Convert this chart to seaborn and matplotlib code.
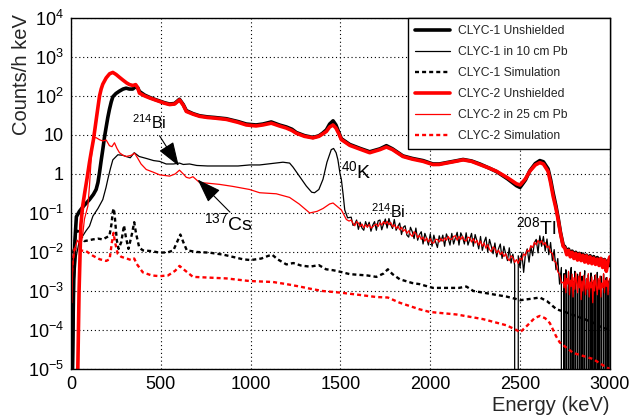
import numpy as np
import matplotlib
matplotlib.use("Agg")
import matplotlib.pyplot as plt
import seaborn as sns
from matplotlib.ticker import FixedLocator, FixedFormatter, LogLocator, MultipleLocator, NullFormatter
from matplotlib.lines import Line2D

# ---------------- spectra (energy in keV, counts/h keV) ----------------
# CLYC-1 unshielded, low-energy part
e_c1_bare_lo = [5, 8, 15, 22, 30, 47, 70, 103, 125, 140, 150, 159, 168, 177, 186, 196, 205, 214,
                224, 233, 250, 270, 290, 307, 325, 344, 363, 372]
c_c1_bare_lo = [1e-6, 1e-5, 0.002, 0.02, 0.08, 0.11, 0.15, 0.22, 0.3, 0.4, 0.6, 1.1, 2.2, 4.2, 8.5, 16,
                28, 45, 70, 95, 115, 133, 150, 158, 150, 150, 178, 160]
# CLYC-2 unshielded, low-energy part
e_c2_bare_lo = [30, 38, 45, 55, 65, 75, 90, 103, 112, 125, 134, 143, 151, 159, 168, 177, 196, 215,
                233, 251, 270, 289, 310, 326, 345, 360, 372]
c_c2_bare_lo = [1e-6, 1e-5, 1e-3, 0.05, 0.15, 0.3, 0.8, 2.0, 3.5, 7.6, 15, 30, 55, 100, 150, 200,
                290, 370, 400, 355, 300, 255, 215, 195, 185, 195, 160]
# unshielded spectra above 380 keV
e_bare_hi = [381, 410, 437, 465, 493, 520, 549, 577, 604, 625, 642, 680, 716, 760, 800, 865, 930,
             976, 1030, 1068, 1115, 1160, 1199, 1230, 1255, 1300, 1347, 1380, 1400, 1422, 1440,
             1459, 1475, 1490, 1505, 1552, 1610, 1663, 1720, 1756, 1790, 1848, 1900, 1960, 2015,
             2050, 2090, 2140, 2183, 2230, 2276, 2330, 2369, 2430, 2480, 2500, 2530, 2554, 2585,
             2610, 2630, 2656, 2670, 2684, 2700, 2712, 2725, 2740]
c_c1_bare_hi = [130, 105, 92, 82, 74, 67, 62, 64, 82, 60, 42, 35, 31, 29, 28, 26, 22, 19, 18, 19,
                21.5, 18, 16, 14, 11.5, 9.6, 8.6, 9.5, 11, 13.5, 19, 23, 18, 12, 8, 5.7, 4.5, 3.7,
                4.4, 5.3, 4.4, 2.9, 2.5, 2.2, 1.8, 1.8, 1.95, 2.15, 2.35, 2.15, 1.8, 1.4, 1.15,
                0.75, 0.5, 0.45, 0.7, 1.2, 1.85, 2.2, 2.05, 1.35, 0.72, 0.33, 0.15, 0.075, 0.032,
                0.015]
c_c2_bare_hi = [118, 100, 89, 80, 72, 65, 60, 62, 79, 58, 40, 34, 30, 28, 27, 25, 21, 18, 17, 18,
                20, 17, 15, 13, 11, 9.2, 8.4, 9.2, 10.5, 12.3, 16, 18, 15, 11, 7.6, 5.4, 4.3, 3.5,
                4.2, 4.9, 4.2, 2.8, 2.4, 2.1, 1.74, 1.75, 1.9, 2.1, 2.3, 2.1, 1.74, 1.4, 1.17, 0.8,
                0.56, 0.52, 0.75, 1.17, 1.7, 1.95, 1.8, 1.17, 0.6, 0.27, 0.13, 0.068, 0.03, 0.014]
# unshielded spectra, 2750-3000 keV in 10 keV bins
e_tail = list(range(2750, 3001, 10))
c_c1_bare_tail = [0.0135, 0.0095, 0.0118, 0.0082, 0.0105, 0.0075, 0.0098, 0.0070, 0.0092, 0.0066,
                  0.0088, 0.0062, 0.0083, 0.0058, 0.0080, 0.0055, 0.0076, 0.0052, 0.0072, 0.0050,
                  0.0068, 0.0047, 0.0064, 0.0044, 0.0060, 0.0045]
c_c2_bare_tail = [0.0125, 0.0085, 0.0110, 0.0075, 0.0098, 0.0068, 0.0092, 0.0062, 0.0088, 0.0060,
                  0.0082, 0.0055, 0.0080, 0.0052, 0.0075, 0.0050, 0.0070, 0.0048, 0.0066, 0.0045,
                  0.0068, 0.0040, 0.0062, 0.0032, 0.0055, 0.0075]

# shielded spectra, smooth low-energy part
e_c1_pb_lo = [8, 14, 20, 30, 45, 66, 84, 103, 122, 150, 177, 195, 205, 220, 233, 261, 290, 307,
              330, 352, 380, 419, 460, 493, 530, 570, 604, 625, 660, 700, 760, 809, 865, 930, 994,
              1050, 1120, 1180, 1217, 1236, 1270, 1310, 1340, 1356, 1380, 1403, 1425, 1449, 1462,
              1476, 1486, 1498, 1505, 1515, 1524, 1540]
c_c1_pb_lo = [1e-6, 1e-5, 0.002, 0.008, 0.018, 0.026, 0.035, 0.046, 0.083, 0.13, 0.22, 0.45, 0.73,
              1.4, 2.3, 3.1, 3.0, 2.8, 2.6, 3.5, 2.8, 2.5, 2.2, 2.1, 1.8, 1.8, 1.9, 1.75, 1.8,
              1.65, 1.6, 1.6, 1.6, 1.6, 1.7, 1.7, 1.85, 2.0, 1.9, 1.5, 0.9, 0.49, 0.34, 0.33, 0.4,
              0.73, 2.0, 4.2, 4.5, 3.5, 2.3, 1.0, 0.73, 0.3, 0.12, 0.075]
e_c2_pb_lo = [5, 10, 20, 36, 55, 66, 75, 94, 103, 112, 122, 131, 140, 160, 177, 196, 214, 228,
              242, 256, 270, 290, 307, 320, 335, 354, 370, 390, 419, 460, 493, 549, 580, 604, 625,
              642, 660, 679, 700, 716, 760, 827, 900, 994, 1050, 1143, 1217, 1270, 1329, 1370,
              1403, 1440, 1459, 1480, 1505, 1533, 1548]
c_c2_pb_lo = [5e-4, 0.005, 0.012, 0.02, 0.015, 0.03, 0.07, 0.15, 0.5, 2.3, 7.0, 8.5, 8.5, 7.5,
              7.0, 7.4, 5.3, 5.0, 6.3, 4.5, 3.5, 3.0, 2.8, 2.9, 3.0, 3.4, 2.6, 1.8, 1.3, 1.1,
              0.95, 0.88, 1.0, 1.25, 1.0, 0.82, 0.78, 0.85, 0.7, 0.6, 0.58, 0.54, 0.48, 0.40,
              0.33, 0.31, 0.25, 0.17, 0.1, 0.11, 0.13, 0.17, 0.18, 0.15, 0.12, 0.068, 0.062]

# shielded spectra, 1560-2740 keV in 10 keV bins
e_mid = list(range(1560, 2741, 10))
c_c1_pb_mid = [0.078, 0.048, 0.052, 0.066, 0.038, 0.058, 0.041, 0.036, 0.060, 0.044,
               0.058, 0.034, 0.049, 0.060, 0.036, 0.063, 0.066, 0.037, 0.052, 0.070,
               0.041, 0.072, 0.050, 0.040, 0.068, 0.036, 0.045, 0.055, 0.028, 0.043,
               0.047, 0.027, 0.024, 0.043, 0.033, 0.022, 0.041, 0.020, 0.028, 0.033,
               0.016, 0.030, 0.022, 0.015, 0.029, 0.014, 0.027, 0.018, 0.013, 0.026,
               0.019, 0.027, 0.014, 0.029, 0.022, 0.015, 0.030, 0.016, 0.023, 0.032,
               0.015, 0.031, 0.024, 0.016, 0.031, 0.015, 0.021, 0.030, 0.014, 0.028,
               0.019, 0.012, 0.025, 0.011, 0.018, 0.024, 0.010, 0.021, 0.014, 0.009,
               0.017, 0.0075, 0.012, 0.016, 0.0068, 0.014, 0.0090, 0.0060, 0.0128, 0.0052,
               0.0088, 0.0046, 0.0, 0.0080, 0.0040, 0.0095, 0.0030, 0.0088, 0.0120, 0.0055,
               0.0140, 0.0080, 0.0175, 0.0210, 0.0095, 0.0260, 0.0140, 0.0250, 0.0105, 0.0215,
               0.0085, 0.0175, 0.0060, 0.0115, 0.0035, 0.0068, 0.0015, 0.0040, 0.0]
c_c2_pb_mid = [0.066, 0.054, 0.047, 0.060, 0.055, 0.045, 0.052, 0.042, 0.050, 0.043,
               0.051, 0.041, 0.044, 0.049, 0.052, 0.045, 0.056, 0.049, 0.060, 0.052,
               0.061, 0.050, 0.057, 0.044, 0.050, 0.040, 0.046, 0.037, 0.043, 0.034,
               0.038, 0.030, 0.035, 0.028, 0.025, 0.033, 0.030, 0.023, 0.027, 0.021,
               0.024, 0.019, 0.023, 0.018, 0.022, 0.017, 0.017, 0.021, 0.021, 0.018,
               0.022, 0.019, 0.023, 0.020, 0.025, 0.021, 0.021, 0.025, 0.026, 0.020,
               0.025, 0.021, 0.025, 0.020, 0.019, 0.024, 0.023, 0.018, 0.022, 0.017,
               0.020, 0.015, 0.019, 0.014, 0.017, 0.0125, 0.0155, 0.0115, 0.0102, 0.0135,
               0.0122, 0.0094, 0.0112, 0.0085, 0.0100, 0.0076, 0.0090, 0.0068, 0.0060, 0.0080,
               0.0073, 0.0054, 0.0064, 0.0051, 0.0070, 0.0062, 0.0090, 0.0080, 0.0112, 0.0102,
               0.0145, 0.0130, 0.0178, 0.0152, 0.0198, 0.0168, 0.0195, 0.0152, 0.0175, 0.0130,
               0.0142, 0.0098, 0.0092, 0.0058, 0.0054, 0.0031, 0.0027, 0.0016, 0.0017]
# shielded spectra, 2745-3000 keV in 5 keV bins
e_tail_pb = list(range(2745, 3001, 5))
c_c1_pb_tail = [0.0028, 0.0, 0.0035, 0.0012, 0.0, 0.0030, 0.0, 0.0022, 0.0040, 0.0,
                0.0018, 0.0, 0.0032, 0.0010, 0.0, 0.0027, 0.0, 0.0015, 0.0030, 0.0,
                0.0024, 0.0, 0.0013, 0.0033, 0.0, 0.0020, 0.0, 0.0026, 0.0011, 0.0,
                0.0029, 0.0, 0.0017, 0.0, 0.0025, 0.0012, 0.0, 0.0030, 0.0, 0.0019,
                0.0, 0.0024, 0.0010, 0.0, 0.0027, 0.0, 0.0016, 0.0022, 0.0, 0.0018,
                0.0, 0.0020]
c_c2_pb_tail = [0.0012, 0.0026, 0.0009, 0.0021, 0.0015, 0.0032, 0.0008, 0.0019, 0.0013, 0.0027,
                0.0007, 0.0022, 0.0011, 0.0029, 0.0016, 0.0009, 0.0024, 0.0012, 0.0030, 0.0006,
                0.0018, 0.0010, 0.0025, 0.0014, 0.0008, 0.0021, 0.0011, 0.0028, 0.0007, 0.0017,
                0.0012, 0.0023, 0.0005, 0.0019, 0.0010, 0.0026, 0.0013, 0.0008, 0.0021, 0.0011,
                0.0024, 0.0007, 0.0016, 0.0012, 0.0028, 0.0009, 0.0019, 0.0013, 0.0022, 0.0008,
                0.0018, 0.0021]

# simulated spectra
e_c1_sim = [2, 15, 25, 36, 47, 60, 75, 100, 122, 150, 177, 200, 214, 225, 233, 239, 245, 255, 265,
            280, 295, 305, 320, 340, 352, 362, 380, 400, 450, 493, 540, 570, 595, 609, 625, 645,
            700, 772, 850, 957, 1000, 1060, 1100, 1120, 1150, 1199, 1238, 1280, 1330, 1380, 1420,
            1460, 1500, 1552, 1600, 1650, 1700, 1740, 1764, 1790, 1830, 1900, 1940, 2015, 2100,
            2160, 2201, 2240, 2294, 2350, 2424, 2480, 2500, 2560, 2610, 2650, 2703, 2760, 2833,
            2900, 2950, 3000]
c_c1_sim = [0.004, 0.012, 0.025, 0.035, 0.033, 0.024, 0.019, 0.02, 0.021, 0.022, 0.021, 0.024,
            0.026, 0.05, 0.11, 0.13, 0.07, 0.02, 0.012, 0.018, 0.048, 0.025, 0.012, 0.03, 0.058,
            0.03, 0.013, 0.011, 0.0105, 0.0096, 0.0098, 0.011, 0.02, 0.028, 0.018, 0.011, 0.01,
            0.0096, 0.0085, 0.0065, 0.0062, 0.0068, 0.008, 0.0085, 0.0065, 0.0048, 0.0052, 0.0045,
            0.0042, 0.0046, 0.0036, 0.0034, 0.0031, 0.0027, 0.0026, 0.0025, 0.0023, 0.0028,
            0.0036, 0.0027, 0.002, 0.0016, 0.0015, 0.0012, 0.0012, 0.0012, 0.0013, 0.001,
            0.00091, 0.00082, 0.00072, 0.00062, 0.00058, 0.00063, 0.00068, 0.00055, 0.00034,
            0.00028, 0.00021, 0.00016, 0.00012, 0.0001]
e_c2_sim = [2, 10, 20, 29, 50, 84, 122, 160, 196, 215, 228, 237, 245, 260, 280, 310, 335, 352, 365,
            400, 450, 493, 540, 580, 604, 630, 679, 770, 865, 994, 1124, 1200, 1273, 1329, 1400,
            1497, 1600, 1700, 1764, 1830, 1940, 1997, 2146, 2294, 2424, 2480, 2500, 2540, 2580,
            2610, 2640, 2666, 2700, 2721, 2795, 2907, 2981, 3000]
c_c2_sim = [0.002, 0.006, 0.012, 0.012, 0.011, 0.0105, 0.008, 0.0065, 0.0059, 0.0065, 0.018,
            0.031, 0.018, 0.009, 0.0075, 0.0068, 0.0062, 0.0068, 0.005, 0.003, 0.0025, 0.0024,
            0.0025, 0.0033, 0.0044, 0.0035, 0.0023, 0.0022, 0.0021, 0.0018, 0.0017, 0.0015,
            0.0013, 0.00115, 0.001, 0.00091, 0.0008, 0.0007, 0.00068, 0.0005, 0.00034, 0.00029,
            0.00025, 0.00019, 0.000132, 0.0001, 8.7e-5, 0.00013, 0.0002, 0.00023, 0.0002,
            0.00015, 7e-5, 4.8e-5, 2.6e-5, 1.8e-5, 1.1e-5, 1e-5]

labels = ["CLYC-1 Unshielded", "CLYC-1 in 10 cm Pb", "CLYC-1 Simulation",
          "CLYC-2 Unshielded", "CLYC-2 in 25 cm Pb", "CLYC-2 Simulation"]

# peak labels: (text, anchor energy, anchor counts, fontsize)
peak_labels = [(r"$^{214}$Bi", 340, 14.5, 11.5),
               (r"$^{137}$Cs", 742, 0.036, 14),
               (r"$^{40}$K", 1505, 0.80, 14),
               (r"$^{214}$Bi", 1672, 0.076, 11.5),
               (r"$^{208}$Tl", 2480, 0.028, 14)]
# arrows: (tail energy, tail counts, tip energy, tip counts)
arrows = [(493, 9.5, 600, 1.6),
          (885, 0.105, 705, 0.72)]

# ---------------- style ----------------
sns.set_theme(style="white")
plt.rcParams["font.family"] = ["Liberation Sans", "DejaVu Sans"]
plt.rcParams["mathtext.fontset"] = "custom"
plt.rcParams["mathtext.rm"] = "Liberation Sans"
plt.rcParams["mathtext.it"] = "Liberation Sans:italic"
plt.rcParams["mathtext.bf"] = "Liberation Sans:bold"
plt.rcParams["mathtext.default"] = "regular"

fig = plt.figure(figsize=(6.31, 4.19), dpi=100)
ax = fig.add_axes([0.1125, 0.1193, 0.854, 0.838])

thick, thin, dash_w = 2.6, 0.9, 1.7
dash = (0, (1.7, 1.3))


def cat(*parts):
    return np.concatenate([np.asarray(p, dtype=float) for p in parts])


series = [
    (cat(e_c1_bare_lo, e_bare_hi, e_tail), cat(c_c1_bare_lo, c_c1_bare_hi, c_c1_bare_tail),
     "black", thick, "-"),
    (cat(e_c1_pb_lo, e_mid, e_tail_pb), cat(c_c1_pb_lo, c_c1_pb_mid, c_c1_pb_tail),
     "black", thin, "-"),
    (np.asarray(e_c1_sim, float), np.asarray(c_c1_sim, float), "black", dash_w, dash),
    (cat(e_c2_bare_lo, e_bare_hi, e_tail), cat(c_c2_bare_lo, c_c2_bare_hi, c_c2_bare_tail),
     "#ff0000", thick, "-"),
    (cat(e_c2_pb_lo, e_mid, e_tail_pb), cat(c_c2_pb_lo, c_c2_pb_mid, c_c2_pb_tail),
     "#ff0000", thin, "-"),
    (np.asarray(e_c2_sim, float), np.asarray(c_c2_sim, float), "#ff0000", dash_w, dash),
]

for (x, y, col, lw, ls) in series:
    sns.lineplot(x=x, y=y, ax=ax, color=col, linewidth=lw, linestyle=ls,
                 estimator=None, sort=False, legend=False)

ax.set_yscale("log", nonpositive="clip")
ax.set_xlim(0, 3000)
ax.set_ylim(1e-5, 1e4)

# ticks
decades = [10.0 ** k for k in range(-5, 5)]
dec_labels = [r"$10^{-5}$", r"$10^{-4}$", r"$10^{-3}$", r"$10^{-2}$", r"$10^{-1}$", "1", "10",
              r"$10^{2}$", r"$10^{3}$", r"$10^{4}$"]
ax.yaxis.set_major_locator(FixedLocator(decades))
ax.yaxis.set_major_formatter(FixedFormatter(dec_labels))
ax.yaxis.set_minor_locator(LogLocator(base=10, subs=np.arange(2, 10), numticks=100))
ax.yaxis.set_minor_formatter(NullFormatter())
ax.xaxis.set_major_locator(MultipleLocator(500))
ax.xaxis.set_minor_locator(MultipleLocator(100))
ax.tick_params(which="both", direction="in", top=False, right=False, width=0.8, colors="black")
ax.tick_params(which="major", length=8, labelsize=13, pad=5)
ax.tick_params(which="minor", length=4)

ax.grid(True, which="major", color="black", linestyle=(0, (1, 2.5)), linewidth=0.8)
ax.set_axisbelow(True)
for s in ax.spines.values():
    s.set_color("black")
    s.set_linewidth(1.0)

ax.set_xlabel("Energy (keV)", loc="right", fontsize=14.5, labelpad=2)
ax.set_ylabel("Counts/h keV", loc="top", fontsize=14.5)
ax.yaxis.set_label_coords(-0.074, 1.01)

# peak annotations
for (txt, ex, cy, fs) in peak_labels:
    ax.text(ex, cy, txt, fontsize=fs, ha="left", va="baseline", color="black")
for (x0, y0, x1, y1) in arrows:
    ax.annotate("", xy=(x1, y1), xytext=(x0, y0),
                arrowprops=dict(arrowstyle="-|>,head_length=1.0,head_width=0.35",
                                mutation_scale=15, color="black", lw=0.8,
                                shrinkA=0, shrinkB=0))

# legend
handles = [Line2D([], [], color=c, lw=lw, linestyle=ls) for (_, _, c, lw, ls) in series]
leg = ax.legend(handles, labels, loc="upper left", bbox_to_anchor=(0.625, 0.624, 0.375, 0.376),
                mode="expand", fontsize=8.7, frameon=True, fancybox=False, framealpha=1,
                edgecolor="black", borderpad=0.6, labelspacing=0.74, handlelength=2.9,
                handletextpad=0.65, borderaxespad=0)
leg.get_frame().set_linewidth(1.0)

fig.savefig("out.png", dpi=100)
